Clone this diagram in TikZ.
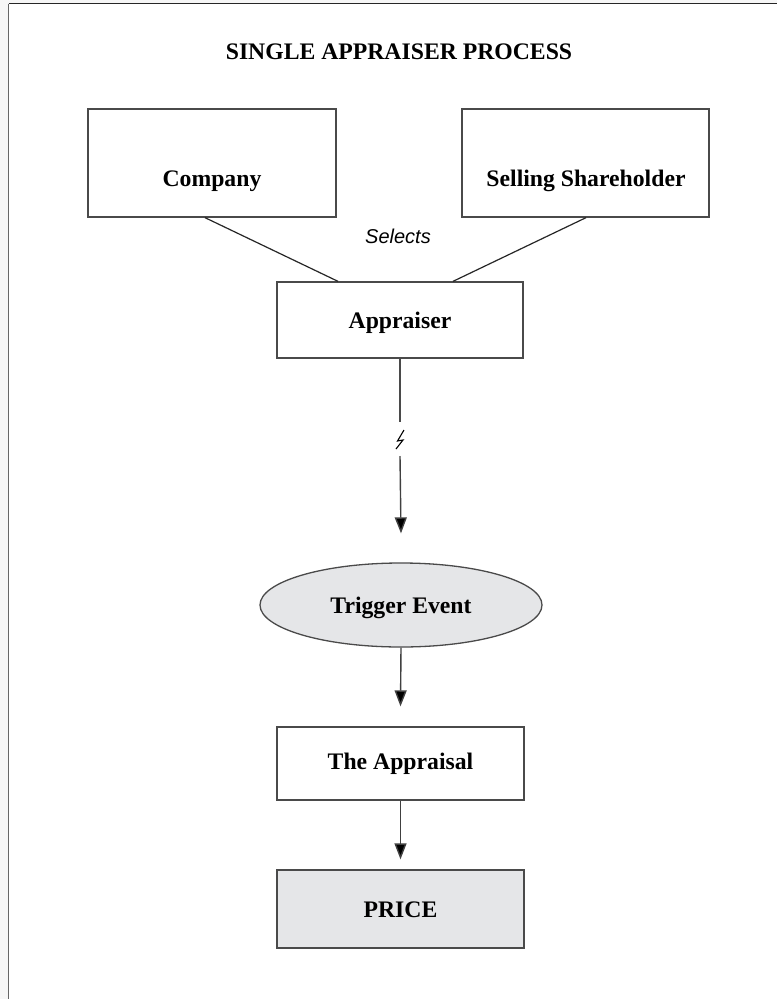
\documentclass[tikz,border=0pt]{standalone}
\usepackage{fontspec}
\setmainfont{Liberation Serif}
\newfontfamily\selfont{Liberation Sans}
\usetikzlibrary{shapes.geometric,arrows.meta}
\definecolor{boxline}{HTML}{4A4A4A}
\definecolor{lightfill}{HTML}{E5E6E8}
\definecolor{pagegray}{HTML}{F6F6F6}
\tikzset{
  box/.style={draw=boxline, line width=1.3pt, rectangle, inner sep=0pt},
  oval/.style={draw=boxline, line width=1.3pt, ellipse, inner sep=0pt, fill=lightfill},
  lbl/.style={anchor=base, inner sep=0pt, font=\fontsize{23.7}{28}\selectfont\bfseries},
  conn/.style={draw=black!85, line width=1.2pt},
  arr/.style={draw=black!75, line width=1.4pt, -{Triangle[width=12pt,length=16pt,fill=black]}},
}
\begin{document}
\begin{tikzpicture}[x=1pt,y=1pt]
\useasboundingbox (0,0) rectangle (777,-999);
% page background and frame
\fill[pagegray] (0,0) rectangle (777,-999);
\fill[white] (8.5,-3.5) rectangle (777,-999);
\draw[black!60, line width=1.5pt] (8.5,-999) -- (8.5,-3.5);
\draw[black!85, line width=1.5pt] (8.5,-3.5) -- (777,-3.5);

% title
\node[lbl] (title) at (399,-59) {SINGLE APPRAISER PROCESS};

% boxes
\node[box, minimum width=248pt, minimum height=108pt] (company) at (212,-163) {};
\node[lbl] (companyt) at (212,-186) {Company};
\node[box, minimum width=247pt, minimum height=108pt] (seller) at (585.5,-163) {};
\node[lbl] (sellert) at (586,-186) {Selling Shareholder};
\node[box, minimum width=246pt, minimum height=76pt] (appr) at (400,-320) {};
\node[lbl] (apprt) at (400,-328) {Appraiser};
\node[anchor=base, inner sep=0pt, font=\selfont\itshape\fontsize{20}{24}\selectfont] (selects) at (398,-243) {Selects};

\node[oval, minimum width=282pt, minimum height=84pt] (trig) at (401,-605) {};
\node[lbl] (trigt) at (401,-613) {Trigger Event};

\node[box, minimum width=247pt, minimum height=73pt] (appraisal) at (400.5,-763.5) {};
\node[lbl] (appraisalt) at (400.5,-769) {The Appraisal};

\node[box, fill=lightfill, minimum width=247pt, minimum height=78pt] (price) at (400.5,-909) {};
\node[lbl] (pricet) at (400.5,-917) {PRICE};

% connectors
\draw[conn] ([xshift=-7pt]company.south) -- ([xshift=-62pt]appr.north);
\draw[conn] ([xshift=0.5pt]seller.south) -- ([xshift=53pt]appr.north);

\coordinate (brk1) at (400,-422);
\coordinate (brk2) at (400,-456);
\draw[conn, draw=boxline, line width=1.4pt] (appr.south) -- (brk1);
\draw[black, line width=1.1pt] (404,-430) -- (397.5,-441) -- (403,-440) -- (396,-449);
\draw[arr] (brk2) -- ([yshift=29pt]trig.north);
\draw[arr] (trig.south) -- ([yshift=20pt]appraisal.north);
\draw[arr] (appraisal.south) -- ([yshift=10pt]price.north);
\end{tikzpicture}
\end{document}
